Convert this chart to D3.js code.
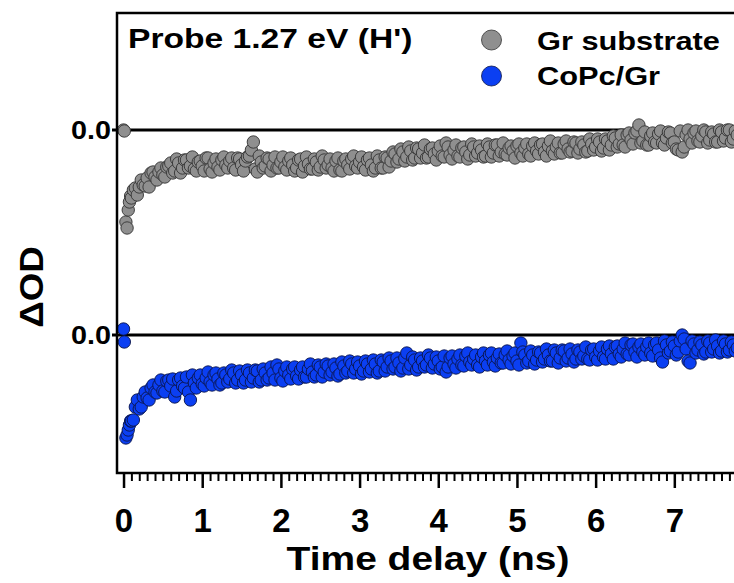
<!DOCTYPE html>
<html>
<head>
<meta charset="utf-8">
<script src="https://cdn.jsdelivr.net/npm/d3@7"></script>
<style>
  body { margin: 0; background: #fff; }
  svg text { font-family: "Liberation Sans", Arial, sans-serif; font-weight: bold; fill: #000; }
</style>
</head>
<body>
<div id="chart"></div>
<script>
// time delays (ns), shared by both traces
const delays = [0, 0.01, 0.03, 0.045, 0.06, 0.075, 0.09,
  0.10,0.15,0.20,0.25,0.30,0.35,0.40,0.45,0.50,0.55,
  0.60,0.65,0.70,0.75,0.80,0.85,0.90,0.95,1.00,1.05,
  1.10,1.15,1.20,1.25,1.30,1.35,1.40,1.45,1.50,1.55,
  1.60,1.65,1.70,1.75,1.80,1.85,1.90,1.95,2.00,2.05,
  2.10,2.15,2.20,2.25,2.30,2.35,2.40,2.45,2.50,2.55,
  2.60,2.65,2.70,2.75,2.80,2.85,2.90,2.95,3.00,3.05,
  3.10,3.15,3.20,3.25,3.30,3.35,3.40,3.45,3.50,3.55,
  3.60,3.65,3.70,3.75,3.80,3.85,3.90,3.95,4.00,4.05,
  4.10,4.15,4.20,4.25,4.30,4.35,4.40,4.45,4.50,4.55,
  4.60,4.65,4.70,4.75,4.80,4.85,4.90,4.95,5.00,5.05,
  5.10,5.15,5.20,5.25,5.30,5.35,5.40,5.45,5.50,5.55,
  5.60,5.65,5.70,5.75,5.80,5.85,5.90,5.95,6.00,6.05,
  6.10,6.15,6.20,6.25,6.30,6.35,6.40,6.45,6.50,6.55,
  6.60,6.65,6.70,6.75,6.80,6.85,6.90,6.95,7.00,7.05,
  7.10,7.15,7.20,7.25,7.30,7.35,7.40,7.45,7.50,7.55,
  7.60,7.65,7.70,7.75,7.80];

// in-between delays (ns)
const delaysMid = [
  0.125,0.175,0.225,0.275,0.325,0.375,0.425,0.475,0.525,0.575,
  0.625,0.675,0.725,0.775,0.825,0.875,0.925,0.975,1.025,1.075,
  1.125,1.175,1.225,1.275,1.325,1.375,1.425,1.475,1.525,1.575,
  1.625,1.675,1.725,1.775,1.825,1.875,1.925,1.975,2.025,2.075,
  2.125,2.175,2.225,2.275,2.325,2.375,2.425,2.475,2.525,2.575,
  2.625,2.675,2.725,2.775,2.825,2.875,2.925,2.975,3.025,3.075,
  3.125,3.175,3.225,3.275,3.325,3.375,3.425,3.475,3.525,3.575,
  3.625,3.675,3.725,3.775,3.825,3.875,3.925,3.975,4.025,4.075,
  4.125,4.175,4.225,4.275,4.325,4.375,4.425,4.475,4.525,4.575,
  4.625,4.675,4.725,4.775,4.825,4.875,4.925,4.975,5.025,5.075,
  5.125,5.175,5.225,5.275,5.325,5.375,5.425,5.475,5.525,5.575,
  5.625,5.675,5.725,5.775,5.825,5.875,5.925,5.975,6.025,6.075,
  6.125,6.175,6.225,6.275,6.325,6.375,6.425,6.475,6.525,6.575,
  6.625,6.675,6.725,6.775,6.825,6.875,6.925,6.975,7.025,7.075,
  7.125,7.175,7.225,7.275,7.325,7.375,7.425,7.475,7.525,7.575,
  7.625,7.675,7.725,7.775];

// ΔOD (arb. units) of the bare graphene substrate
const grSubstrate = [0.00, -0.01, -0.92, -0.98, -0.80, -0.72, -0.66,
  -0.68,-0.58,-0.57,-0.55,-0.48,-0.43,-0.47,-0.42,-0.45,-0.37,
  -0.33,-0.41,-0.33,-0.38,-0.30,-0.36,-0.39,-0.32,-0.36,-0.28,
  -0.39,-0.33,-0.37,-0.30,-0.35,-0.31,-0.38,-0.28,-0.35,-0.31,
  -0.26,-0.12,-0.42,-0.32,-0.36,-0.29,-0.35,-0.38,-0.32,-0.37,
  -0.31,-0.35,-0.38,-0.29,-0.36,-0.34,-0.39,-0.32,-0.37,-0.30,
  -0.35,-0.38,-0.31,-0.40,-0.31,-0.35,-0.29,-0.36,-0.32,-0.37,
  -0.30,-0.35,-0.38,-0.30,-0.38,-0.28,-0.31,-0.24,-0.29,-0.22,
  -0.27,-0.21,-0.28,-0.19,-0.23,-0.28,-0.19,-0.24,-0.21,-0.26,
  -0.13,-0.25,-0.20,-0.26,-0.18,-0.22,-0.25,-0.17,-0.23,-0.20,
  -0.26,-0.17,-0.23,-0.15,-0.22,-0.24,-0.18,-0.21,-0.16,-0.23,
  -0.18,-0.24,-0.16,-0.21,-0.15,-0.22,-0.16,-0.21,-0.17,-0.23,
  -0.14,-0.19,-0.21,-0.13,-0.19,-0.15,-0.21,-0.14,-0.17,-0.12,
  -0.18,-0.11,-0.15,-0.08,-0.14,-0.15,-0.05,-0.10,-0.03,0.05,
  -0.11,-0.15,-0.06,-0.12,-0.04,-0.13,-0.08,-0.03,-0.12,-0.20,
  -0.22,-0.05,-0.09,-0.03,-0.11,-0.06,-0.02,-0.10,-0.04,-0.12,
  -0.02,-0.08,0.00,-0.09,-0.05];

const grSubstrateMid = [
  -0.60,-0.65,-0.50,-0.56,-0.57,-0.42,-0.50,-0.38,-0.47,-0.36,
  -0.43,-0.29,-0.43,-0.30,-0.38,-0.27,-0.41,-0.31,-0.41,-0.28,
  -0.42,-0.29,-0.40,-0.27,-0.38,-0.28,-0.40,-0.29,-0.41,-0.27,
  -0.20,-0.39,-0.26,-0.38,-0.28,-0.41,-0.27,-0.38,-0.27,-0.40,
  -0.28,-0.41,-0.30,-0.42,-0.27,-0.39,-0.29,-0.40,-0.26,-0.38,
  -0.29,-0.41,-0.28,-0.41,-0.29,-0.39,-0.26,-0.38,-0.27,-0.40,
  -0.28,-0.41,-0.26,-0.38,-0.27,-0.37,-0.22,-0.32,-0.19,-0.31,
  -0.17,-0.30,-0.18,-0.28,-0.15,-0.27,-0.18,-0.30,-0.16,-0.27,
  -0.17,-0.29,-0.15,-0.27,-0.17,-0.29,-0.14,-0.26,-0.16,-0.27,
  -0.14,-0.27,-0.15,-0.26,-0.13,-0.25,-0.16,-0.28,-0.14,-0.26,
  -0.14,-0.26,-0.13,-0.24,-0.14,-0.26,-0.11,-0.24,-0.13,-0.23,
  -0.11,-0.22,-0.12,-0.23,-0.12,-0.22,-0.09,-0.20,-0.09,-0.21,
  -0.09,-0.20,-0.06,-0.17,-0.05,-0.17,-0.03,-0.14,-0.01,-0.13,
  -0.02,-0.15,-0.03,-0.13,-0.01,-0.15,-0.02,-0.13,-0.19,-0.01,
  -0.17,0.00,-0.13,-0.01,-0.12,0.00,-0.13,-0.02,-0.12,0.00,
  -0.11,0.00,-0.12,-0.01];

// ΔOD (arb. units) of CoPc on graphene
const coPcGr = [0.06, -0.07, -1.03, -1.00, -0.95, -0.90, -0.86,
  -0.86,-0.72,-0.74,-0.62,-0.63,-0.53,-0.57,-0.50,-0.56,-0.46,
  -0.51,-0.62,-0.45,-0.51,-0.42,-0.65,-0.48,-0.43,-0.49,-0.43,
  -0.47,-0.40,-0.44,-0.48,-0.40,-0.44,-0.38,-0.45,-0.40,-0.45,
  -0.38,-0.43,-0.36,-0.45,-0.38,-0.43,-0.38,-0.30,-0.43,-0.36,
  -0.40,-0.34,-0.41,-0.35,-0.42,-0.34,-0.37,-0.40,-0.32,-0.37,
  -0.31,-0.37,-0.33,-0.39,-0.31,-0.36,-0.29,-0.34,-0.31,-0.36,
  -0.29,-0.34,-0.29,-0.36,-0.27,-0.32,-0.26,-0.32,-0.28,-0.33,
  -0.18,-0.30,-0.25,-0.32,-0.26,-0.30,-0.23,-0.29,-0.26,-0.32,
  -0.37,-0.23,-0.29,-0.24,-0.30,-0.21,-0.27,-0.24,-0.30,-0.22,
  -0.26,-0.20,-0.27,-0.23,-0.28,-0.20,-0.25,-0.21,-0.26,-0.08,
  -0.20,-0.26,-0.20,-0.25,-0.18,-0.24,-0.20,-0.26,-0.18,-0.23,
  -0.16,-0.23,-0.19,-0.24,-0.17,-0.21,-0.24,-0.15,-0.22,-0.16,
  -0.22,-0.14,-0.19,-0.12,-0.19,-0.14,-0.19,-0.10,-0.17,-0.12,
  -0.17,-0.12,-0.18,-0.10,-0.15,-0.27,-0.10,-0.16,-0.11,-0.17,
  0.00,-0.14,-0.28,-0.09,-0.15,-0.10,-0.17,-0.08,-0.14,-0.11,
  -0.16,-0.09,-0.15,-0.10,-0.13];

const coPcGrMid = [
  -0.85,-0.65,-0.72,-0.57,-0.65,-0.50,-0.58,-0.45,-0.57,-0.45,
  -0.44,-0.56,-0.43,-0.53,-0.57,-0.40,-0.53,-0.40,-0.51,-0.37,
  -0.50,-0.38,-0.50,-0.38,-0.47,-0.35,-0.48,-0.36,-0.48,-0.35,
  -0.47,-0.35,-0.47,-0.34,-0.45,-0.32,-0.45,-0.34,-0.46,-0.32,
  -0.44,-0.32,-0.44,-0.32,-0.42,-0.29,-0.42,-0.30,-0.42,-0.29,
  -0.40,-0.29,-0.41,-0.27,-0.38,-0.26,-0.38,-0.27,-0.39,-0.26,
  -0.37,-0.25,-0.38,-0.25,-0.36,-0.23,-0.34,-0.23,-0.36,-0.23,
  -0.34,-0.22,-0.35,-0.23,-0.32,-0.20,-0.33,-0.22,-0.34,-0.21,
  -0.32,-0.21,-0.33,-0.20,-0.31,-0.18,-0.30,-0.20,-0.32,-0.18,
  -0.30,-0.18,-0.31,-0.19,-0.28,-0.16,-0.29,-0.18,-0.30,-0.17,
  -0.28,-0.16,-0.29,-0.17,-0.27,-0.14,-0.26,-0.15,-0.28,-0.15,
  -0.26,-0.14,-0.27,-0.15,-0.24,-0.12,-0.25,-0.14,-0.25,-0.12,
  -0.24,-0.11,-0.24,-0.11,-0.22,-0.08,-0.20,-0.09,-0.22,-0.09,
  -0.20,-0.08,-0.21,-0.08,-0.23,-0.06,-0.18,-0.07,-0.20,-0.06,
  -0.04,-0.26,-0.06,-0.18,-0.07,-0.19,-0.06,-0.17,-0.05,-0.18,
  -0.06,-0.17,-0.07,-0.16];

const seriesNames = ["Gr substrate", "CoPc/Gr"];
const seriesOffsets = [0, -2.05];   // vertical stacking of the two traces
const xMajorTicks = [0, 1, 2, 3, 4, 5, 6, 7, 8];
const xTickLabels = ["0", "1", "2", "3", "4", "5", "6", "7", ""];
const yTickLabel = "0.0";
const panelLabel = "Probe 1.27 eV (H')";

const width = 734, height = 583;
const margin = {left: 117, top: 13, bottom: 110};
const colors = [{fill: "#8f8f8f", stroke: "#333333"}, {fill: "#0b3ff2", stroke: "#0a1448"}];

const svg = d3.select("#chart").append("svg")
    .attr("width", width)
    .attr("height", height);

const x = d3.scaleLinear()
    .domain([-0.083, 8.0])
    .range([margin.left, 753]);

const y = d3.scaleLinear()
    .domain([-3.43, 1.17])
    .range([height - margin.bottom, margin.top]);

const y0 = y.range()[0], y1 = y.range()[1];

// stretch text horizontally a bit like the original export
function stretch(sel, k) {
    sel.each(function () {
        const w = this.getComputedTextLength();
        d3.select(this).attr("textLength", w * k).attr("lengthAdjust", "spacingAndGlyphs");
    });
}

svg.append("clipPath").attr("id", "plotclip")
    .append("rect")
    .attr("x", margin.left).attr("y", y1)
    .attr("width", x.range()[1] - margin.left).attr("height", y0 - y1);

// zero lines for each trace
svg.selectAll(".zero")
    .data(seriesOffsets)
    .enter().append("line")
    .attr("class", "zero")
    .attr("x1", 112).attr("x2", x.range()[1])
    .attr("y1", d => y(d)).attr("y2", d => y(d))
    .attr("stroke", "#000")
    .attr("stroke-width", 3);

// points, drawn in time order
const plot = svg.append("g").attr("clip-path", "url(#plotclip)");
[[grSubstrate, grSubstrateMid], [coPcGr, coPcGrMid]].forEach(([vals, mid], s) => {
    const pts = d3.zip(delays, vals).concat(d3.zip(delaysMid, mid))
        .sort((a, b) => a[0] - b[0]);
    plot.append("g").selectAll("circle")
        .data(pts)
        .enter().append("circle")
        .attr("cx", d => x(d[0]))
        .attr("cy", d => y(d[1] + seriesOffsets[s]))
        .attr("r", 6.2)
        .attr("fill", colors[s].fill)
        .attr("stroke", colors[s].stroke)
        .attr("stroke-width", 0.9);
});

// frame
svg.append("path")
    .attr("d", `M${x.range()[1]},${y1}H${margin.left}V${y0}H${x.range()[1]}`)
    .attr("fill", "none")
    .attr("stroke", "#000")
    .attr("stroke-width", 2.5);

// x axis, minor then major ticks
const minorTicks = d3.range(0, 80).map(d => d / 10).filter(d => d % 1 !== 0);
svg.append("g")
    .attr("transform", `translate(0,${y0})`)
    .call(d3.axisBottom(x).tickValues(minorTicks).tickSize(8).tickSizeOuter(0).tickFormat(""))
    .call(g => g.select(".domain").remove())
    .selectAll("line").attr("stroke-width", 2);

const xAxis = svg.append("g")
    .attr("transform", `translate(0,${y0})`)
    .call(d3.axisBottom(x).tickValues(xMajorTicks).tickSize(15).tickSizeOuter(0)
        .tickFormat((d, i) => xTickLabels[i]));
xAxis.select(".domain").remove();
xAxis.selectAll("line").attr("stroke-width", 2.5);
xAxis.selectAll("text")
    .attr("y", 59).attr("dy", 0)
    .style("font-size", "33px")
    .style("font-family", "'Liberation Sans', Arial, sans-serif")
    .style("font-weight", "bold");

// y labels (only the zero of each trace)
svg.selectAll(".ylab")
    .data(seriesOffsets)
    .enter().append("text")
    .attr("class", "ylab")
    .attr("x", 111)
    .attr("y", d => y(d) + 9)
    .attr("text-anchor", "end")
    .style("font-size", "25px")
    .text(yTickLabel)
    .call(stretch, 1.15);

// axis titles
svg.append("text")
    .attr("x", 428).attr("y", 570)
    .attr("text-anchor", "middle")
    .style("font-size", "33px")
    .text("Time delay (ns)")
    .call(stretch, 1.18);

svg.append("text")
    .attr("transform", "translate(43,287) rotate(-90)")
    .attr("text-anchor", "middle")
    .style("font-size", "34px")
    .text("\u0394OD")
    .call(stretch, 1.08);

// panel label
svg.append("text")
    .attr("x", 128).attr("y", 48)
    .style("font-size", "28px")
    .text(panelLabel)
    .call(stretch, 1.2);

// legend
const legend = svg.append("g");
seriesNames.forEach((name, i) => {
    legend.append("circle")
        .attr("cx", 491.5).attr("cy", 40 + i * 36)
        .attr("r", 10)
        .attr("fill", colors[i].fill)
        .attr("stroke", colors[i].stroke)
        .attr("stroke-width", 0.8);
    legend.append("text")
        .attr("x", 537).attr("y", 50 + i * 35)
        .style("font-size", "25px")
        .text(name)
        .call(stretch, 1.23);
});
</script>
</body>
</html>
